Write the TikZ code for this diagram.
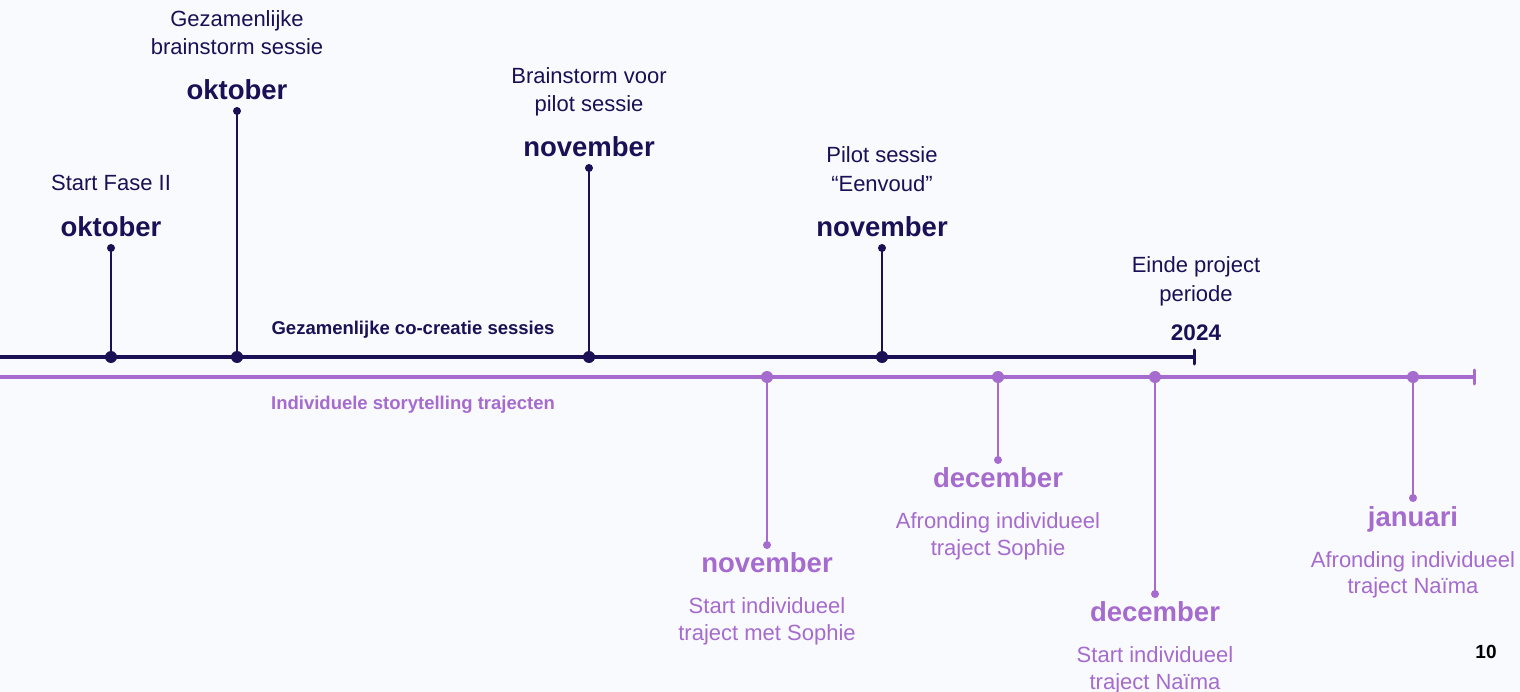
\documentclass[tikz,border=0pt]{standalone}
\usepackage{fontspec}
\setmainfont{Liberation Sans}
\definecolor{navy}{HTML}{1B0F55}
\definecolor{lila}{HTML}{A56BCE}
\definecolor{bg}{HTML}{F9FAFD}
\begin{document}
\begin{tikzpicture}[x=1pt,y=-1pt,
  body/.style={anchor=base,inner sep=0pt,font=\fontsize{22}{26}\selectfont},
  month/.style={anchor=base,inner sep=0pt,font=\fontsize{27.5}{32}\selectfont\bfseries},
  track/.style={anchor=base,inner sep=0pt,font=\fontsize{18.5}{22}\selectfont\bfseries},
  bigdot/.style={circle,fill,inner sep=0pt,minimum size=12pt},
  smalldot/.style={circle,fill,inner sep=0pt,minimum size=8pt},
  stem/.style={line width=2.4pt},
  mainline/.style={line width=4pt},
  endtick/.style={line width=3pt,line cap=round}]
\fill[bg] (0,0) rectangle (1520,692);
\useasboundingbox (0,0) rectangle (1520,692);

% main lines
\coordinate (n0) at (0,357);
\coordinate (nend) at (1194,357);
\coordinate (p0) at (0,377);
\coordinate (pend) at (1474,377);
\draw[navy,mainline] (n0) -- (nend);
\draw[navy,endtick] ([yshift=7pt]nend) -- ([yshift=-7pt]nend);
\draw[lila,mainline] (p0) -- (pend);
\draw[lila,endtick] ([yshift=7pt]pend) -- ([yshift=-7pt]pend);

\node[track,navy] (tn) at (413,335) {Gezamenlijke co-creatie sessies};
\node[track,lila] (tp) at (413,409) {Individuele storytelling trajecten};

% navy events
\node[smalldot,navy] (t1) at (111,248) {};
\node[bigdot,navy] (b1) at (111,357) {};
\draw[navy,stem] (t1.center) -- (b1.center);
\node[month,navy] (m1) at (111,237) {oktober};
\node[body,navy] (l1a) at (111,191) {Start Fase II};

\node[smalldot,navy] (t2) at (237,111) {};
\node[bigdot,navy] (b2) at (237,357) {};
\draw[navy,stem] (t2.center) -- (b2.center);
\node[month,navy] (m2) at (237,100) {oktober};
\node[body,navy] (l2a) at (237,27) {Gezamenlijke};
\node[body,navy] (l2b) at (237,55) {brainstorm sessie};

\node[smalldot,navy] (t3) at (589,168) {};
\node[bigdot,navy] (b3) at (589,357) {};
\draw[navy,stem] (t3.center) -- (b3.center);
\node[month,navy] (m3) at (589,157) {november};
\node[body,navy] (l3a) at (589,84) {Brainstorm voor};
\node[body,navy] (l3b) at (589,112) {pilot sessie};

\node[smalldot,navy] (t4) at (882,248) {};
\node[bigdot,navy] (b4) at (882,357) {};
\draw[navy,stem] (t4.center) -- (b4.center);
\node[month,navy] (m4) at (882,237) {november};
\node[body,navy] (l4a) at (882,163) {Pilot sessie};
\node[body,navy] (l4b) at (882,192) {“Eenvoud”};

\node[month,navy,font=\fontsize{22.5}{26}\selectfont\bfseries] (y1) at (1196,341) {2024};
\node[body,navy] (e1a) at (1196,273) {Einde project};
\node[body,navy] (e1b) at (1196,302) {periode};

% purple events
\node[bigdot,lila] (q1) at (767,377) {};
\node[smalldot,lila] (d1) at (767,545) {};
\draw[lila,stem] (q1.center) -- (d1.center);
\node[month,lila] (k1) at (767,572) {november};
\node[body,lila] (k1a) at (767,613) {Start individueel};
\node[body,lila] (k1b) at (767,640) {traject met Sophie};

\node[bigdot,lila] (q2) at (998,377) {};
\node[smalldot,lila] (d2) at (998,460) {};
\draw[lila,stem] (q2.center) -- (d2.center);
\node[month,lila] (k2) at (998,487) {december};
\node[body,lila] (k2a) at (998,528) {Afronding individueel};
\node[body,lila] (k2b) at (998,555) {traject Sophie};

\node[bigdot,lila] (q3) at (1155,377) {};
\node[smalldot,lila] (d3) at (1155,594) {};
\draw[lila,stem] (q3.center) -- (d3.center);
\node[month,lila] (k3) at (1155,621) {december};
\node[body,lila] (k3a) at (1155,662) {Start individueel};
\node[body,lila] (k3b) at (1155,689) {traject Naïma};

\node[bigdot,lila] (q4) at (1413,377) {};
\node[smalldot,lila] (d4) at (1413,498) {};
\draw[lila,stem] (q4.center) -- (d4.center);
\node[month,lila] (k4) at (1413,526) {januari};
\node[body,lila] (k4a) at (1413,567) {Afronding individueel};
\node[body,lila] (k4b) at (1413,593) {traject Naïma};

\node[anchor=base,inner sep=0pt,font=\fontsize{19}{22}\selectfont\bfseries] (pg) at (1486,658) {10};
\end{tikzpicture}
\end{document}
